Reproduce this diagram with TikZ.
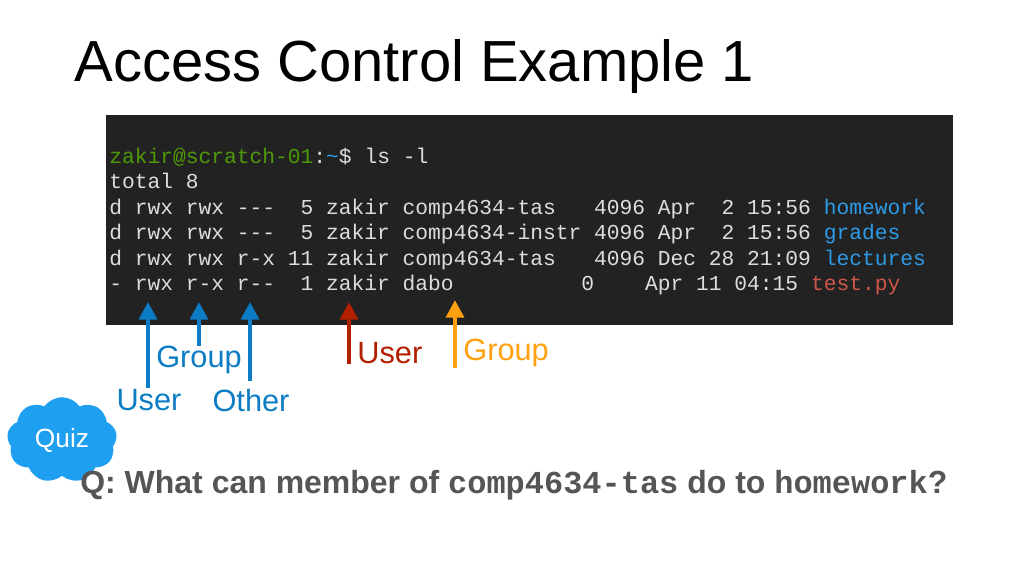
\documentclass[tikz,border=0pt]{standalone}
\usepackage{fontspec}
\setmainfont{Liberation Sans}
\setmonofont{Liberation Mono}
\usetikzlibrary{positioning, arrows.meta, shapes.symbols}
\definecolor{termbg}{HTML}{222222}
\definecolor{termfg}{HTML}{DDDDDD}
\definecolor{termgreen}{HTML}{4E9A06}
\definecolor{termblue}{HTML}{2E9BE6}
\definecolor{termred}{HTML}{D0564A}
\definecolor{permblue}{HTML}{0C7CC4}
\definecolor{ownred}{HTML}{B22000}
\definecolor{grporange}{HTML}{FFA010}
\definecolor{quizblue}{HTML}{1E9FF0}
\definecolor{qgray}{HTML}{555555}
\tikzset{
  termline/.style={anchor=base west, inner sep=0pt, text=termfg, font=\fontsize{12.1}{14}\ttfamily},
  pointer/.style={line width=2.6pt, -{Triangle[length=10pt,width=10pt]}},
  lbl/.style={inner sep=0pt, font=\fontsize{17.5}{20}\selectfont}
}
\begin{document}
\begin{tikzpicture}[x=0.02cm, y=-0.02cm]
            \useasboundingbox (0,0) rectangle (1024,576);

            % Titel
            \node[anchor=west, inner sep=0pt, font=\fontsize{33}{38}\selectfont] (title) at (74,67) {Access Control Example 1};

            % Terminal
            \fill[termbg] (106,115) rectangle (953,325);
            \node[termline] (l1) at (109,163) {\textcolor{termgreen}{zakir@scratch-01}:\textcolor{termblue}{\char`~}\$ ls -l};
            \node[termline] (l2) at (109,188) {total 8};
            \node[termline] (l3) at (109,214) {d rwx rwx ---~~5 zakir comp4634-tas~~~4096 Apr~~2 15:56 \textcolor{termblue}{homework}};
            \node[termline] (l4) at (109,239) {d rwx rwx ---~~5 zakir comp4634-instr 4096 Apr~~2 15:56 \textcolor{termblue}{grades}};
            \node[termline] (l5) at (109,265) {d rwx rwx r-x 11 zakir comp4634-tas~~~4096 Dec 28 21:09 \textcolor{termblue}{lectures}};
            \node[termline] (l6) at (109,290) {- rwx r-x r--~~1 zakir dabo~~~~~~~~~~0~~~~Apr 11 04:15 \textcolor{termred}{test.py}};

            % Zeiger
            \coordinate (uTip) at (148,302);
            \coordinate (gTip) at (199,302);
            \coordinate (oTip) at (250,302);
            \coordinate (ownTip) at (349,302);
            \coordinate (grpTip) at (455,300);
            \coordinate (uEnd) at (148,388);
            \coordinate (gEnd) at (199,346);
            \coordinate (oEnd) at (250,381);
            \coordinate (ownEnd) at (349,364);
            \coordinate (grpEnd) at (455,368);
            \draw[pointer, permblue] (uEnd) -- (uTip);
            \draw[pointer, permblue] (gEnd) -- (gTip);
            \draw[pointer, permblue] (oEnd) -- (oTip);
            \draw[pointer, ownred] (ownEnd) -- (ownTip);
            \draw[pointer, grporange] (grpEnd) -- (grpTip);

            % Beschriftungen
            \node[lbl, text=permblue] (permUser) at (149,400) {User};
            \node[lbl, text=permblue] (permGroup) at (199,360) {Group};
            \node[lbl, text=permblue] (permOther) at (251,400) {Other};
            \node[lbl, text=ownred, anchor=west] (ownUser) at (357,353) {User};
            \node[lbl, text=grporange, anchor=west] (ownGroup) at (463,353) {Group};

            % Quiz
            \node[cloud, cloud puffs=9, cloud puff arc=110, fill=quizblue, text=white, inner sep=0pt,
                  minimum width=2.2cm, minimum height=1cm, font=\fontsize{15}{18}\selectfont] (quiz) at (62,440) {Quiz};
            \node[anchor=west, inner sep=0pt, text=qgray, font=\fontsize{18.2}{21}\bfseries] (question) at (80,485)
              {Q: What can member of \texttt{comp4634-tas} do to \texttt{homework}?};
\end{tikzpicture}
\end{document}
